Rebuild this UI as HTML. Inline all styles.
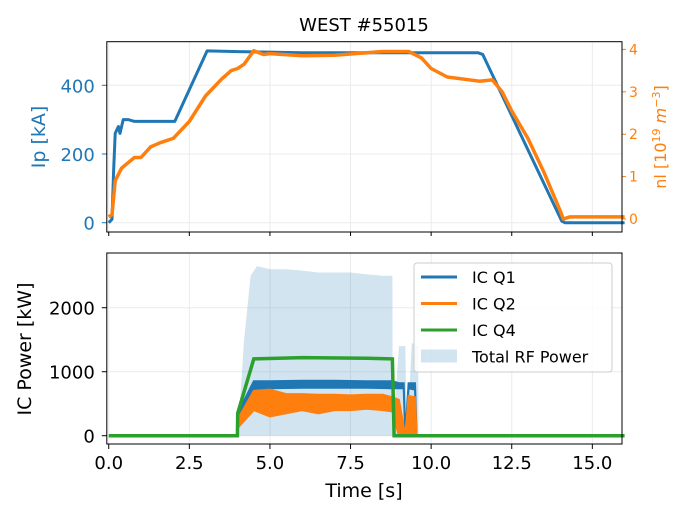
<!DOCTYPE html>
<html><head><meta charset="utf-8"><style>
body{margin:0;background:#fff}
svg{display:block;font-family:"DejaVu Sans","Liberation Sans",sans-serif}
</style></head><body>
<svg id="c" width="690" height="518" viewBox="0 0 690 518">
<text x="364" y="31" font-size="18" text-anchor="middle" fill="#000">WEST #55015</text>
<text transform="translate(45,137) rotate(-90)" font-size="19" text-anchor="middle" fill="#1f77b4">Ip [kA]</text>
<text transform="translate(666,137) rotate(-90)" font-size="16" text-anchor="middle" fill="#ff7f0e">nl [10<tspan font-size="11" dy="-6">19</tspan><tspan dy="6"> </tspan><tspan font-style="italic">m</tspan><tspan font-size="11" dy="-6">−3</tspan><tspan dy="6">]</tspan></text>
<text transform="translate(31,349) rotate(-90)" font-size="19" text-anchor="middle" fill="#000">IC Power [kW]</text>
<text x="364" y="497" font-size="19" text-anchor="middle" fill="#000">Time [s]</text>
<g id="g"></g>
</svg>
<script>
const xTicks=[0,2.5,5,7.5,10,12.5,15];
const xTickLabels=["0.0","2.5","5.0","7.5","10.0","12.5","15.0"];
const ipTicks=[0,200,400];
const nlTicks=[0,1,2,3,4];
const pTicks=[0,1000,2000];
const ipT=[0,0.1,0.15,0.2,0.3,0.35,0.45,0.6,0.8,2.05,3.05,4,6,8,10,11.45,11.6,14.05,14.15,16];
const ipV=[0,10,150,260,280,260,300,300,295,295,500,498,495,495,495,495,490,5,0,0];
const nlT=[0,0.1,0.2,0.4,0.8,1.0,1.3,1.6,2.0,2.5,3.0,3.5,3.8,4.0,4.2,4.5,4.8,5.0,6,7,8,8.5,9.3,9.7,10.0,10.5,11.5,11.9,12.2,12.5,13,13.5,14.0,14.1,14.3,16];
const nlV=[0.05,0.1,0.9,1.2,1.45,1.45,1.7,1.8,1.9,2.3,2.9,3.3,3.5,3.55,3.65,3.97,3.88,3.9,3.85,3.86,3.92,3.95,3.95,3.8,3.55,3.35,3.25,3.28,3.0,2.55,1.9,1.1,0.2,0.0,0.05,0.05];
const rfT=[4.0,4.2,4.4,4.6,5.0,5.5,6,6.5,7,7.5,8,8.5,8.8,8.81,9.0,9.2,9.25,9.4,9.6,9.61];
const rfV=[0,1500,2500,2650,2600,2600,2580,2550,2550,2550,2520,2500,2500,0,1400,1400,0,1450,1400,0];
const q4T=[0,3.99,4.0,4.5,6,8,8.8,8.85,16];
const q4V=[0,0,350,1200,1220,1210,1200,0,0];
const q1T=[4.05,4.5,5,6,7,8,8.8,9.0,9.15,9.2,9.3,9.5,9.55];
const q1Hi=[400,850,850,860,860,850,850,820,820,0,820,820,0];
const q1Lo=[300,730,740,750,750,750,740,740,740,0,740,720,0];
const q2T=[4.05,4.5,5,5.5,6,6.5,7,7.5,8,8.5,8.8,9.0,9.2,9.3,9.5,9.55];
const q2Hi=[300,700,720,650,650,640,640,630,640,640,600,560,0,620,600,0];
const q2Lo=[150,400,300,350,400,350,400,400,420,400,380,0,0,0,0,0];
const NS='http://www.w3.org/2000/svg';
const g=document.getElementById('g');
const X0=106.8,X1=622,T0=-0.06,T1=15.92;
const sx=t=>X0+(t-T0)/(T1-T0)*(X1-X0);
const sIp=v=>222.7-v*(137.4/400);
const sNl=v=>219-v*42.4;
const sP=v=>435.7-v*0.064;
function el(tag,at,p){const e=document.createElementNS(NS,tag);for(const k in at)e.setAttribute(k,at[k]);(p||g).appendChild(e);return e;}
function pts(T,V,fy){return T.map((t,i)=>sx(t).toFixed(1)+','+fy(V[i]).toFixed(1)).join(' ');}
function grid(y0,y1){xTicks.forEach(t=>{const l=el('line',{x1:sx(t),x2:sx(t),y1:y0,y2:y1,stroke:'#ebebeb','stroke-width':1});});}
grid(41.7,232);
ipTicks.forEach(v=>{const l=el('line',{x1:X0,x2:X1,y1:sIp(v),y2:sIp(v),stroke:'#ebebeb'});
const t=el('line',{x1:X0-5,x2:X0,y1:sIp(v),y2:sIp(v),stroke:'#1f77b4'});
const tx=el('text',{x:X0-12,y:sIp(v)+7,'font-size':18,'text-anchor':'end',fill:'#1f77b4'});tx.textContent=v;});
nlTicks.forEach(v=>{const t=el('line',{x1:X1,x2:X1+4,y1:sNl(v),y2:sNl(v),stroke:'#ff7f0e'});
const tx=el('text',{x:X1+7,y:sNl(v)+5,'font-size':14,fill:'#ff7f0e'});tx.textContent=v;});
let ip=el('polyline',{points:pts(ipT,ipV,sIp),fill:'none',stroke:'#1f77b4','stroke-width':3,'stroke-linejoin':'round'});

let nl=el('polyline',{points:pts(nlT,nlV,sNl),fill:'none',stroke:'#ff7f0e','stroke-width':3.5,'stroke-linejoin':'round'});

let f1=el('rect',{x:X0,y:41.7,width:X1-X0,height:190.3,fill:'none',stroke:'#000','stroke-width':1});

xTicks.forEach(t=>{const l=el('line',{x1:sx(t),x2:sx(t),y1:232,y2:236,stroke:'#000'});});
grid(253,444);
pTicks.forEach(v=>{const l=el('line',{x1:X0,x2:X1,y1:sP(v),y2:sP(v),stroke:'#ebebeb'});
const t=el('line',{x1:X0-5,x2:X0,y1:sP(v),y2:sP(v),stroke:'#000'});
const tx=el('text',{x:X0-12,y:sP(v)+7,'font-size':18,'text-anchor':'end',fill:'#000'});tx.textContent=v;});
function area(T,Hi,Lo,fy){const a=T.map((t,i)=>sx(t).toFixed(1)+','+fy(Hi[i]).toFixed(1));const b=T.map((t,i)=>sx(t).toFixed(1)+','+fy(Lo?Lo[i]:0).toFixed(1)).reverse();return a.concat(b).join(' ');}
let rf=el('polygon',{points:area(rfT,rfV,null,sP),fill:'#1f77b4','fill-opacity':0.2});

let q1=el('polygon',{points:area(q1T,q1Hi,q1Lo,sP),fill:'#1f77b4',stroke:'#1f77b4','stroke-width':2});

let q2=el('polygon',{points:area(q2T,q2Hi,q2Lo,sP),fill:'#ff7f0e',stroke:'#ff7f0e','stroke-width':2});

let q4=el('polyline',{points:pts(q4T,q4V,sP),fill:'none',stroke:'#2ca02c','stroke-width':3.5});

let f2=el('rect',{x:X0,y:253,width:X1-X0,height:191,fill:'none',stroke:'#000','stroke-width':1});

xTicks.forEach((t,i)=>{const l=el('line',{x1:sx(t),x2:sx(t),y1:444,y2:449,stroke:'#000'});
const tx=el('text',{x:sx(t),y:469,'font-size':18,'text-anchor':'middle',fill:'#000'});tx.textContent=xTickLabels[i];});
const lg=el('g',{});
el('rect',{x:414,y:263,width:198,height:109,rx:3,fill:'#fff','fill-opacity':0.85,stroke:'#ccc'},lg);
const items=[['IC Q1','#1f77b4'],['IC Q2','#ff7f0e'],['IC Q4','#2ca02c'],['Total RF Power','rf']];
items.forEach((it,i)=>{const y=277+i*26.5;const e=el('g',{},lg);
if(it[1]==='rf')el('rect',{x:421,y:y-7,width:36,height:13,fill:'#1f77b4','fill-opacity':0.2},e);
else el('line',{x1:421,x2:457,y1:y,y2:y,stroke:it[1],'stroke-width':3},e);
const t=el('text',{x:472,y:y+6,'font-size':16,fill:'#000'},e);t.textContent=it[0];});
</script>
</body></html>
